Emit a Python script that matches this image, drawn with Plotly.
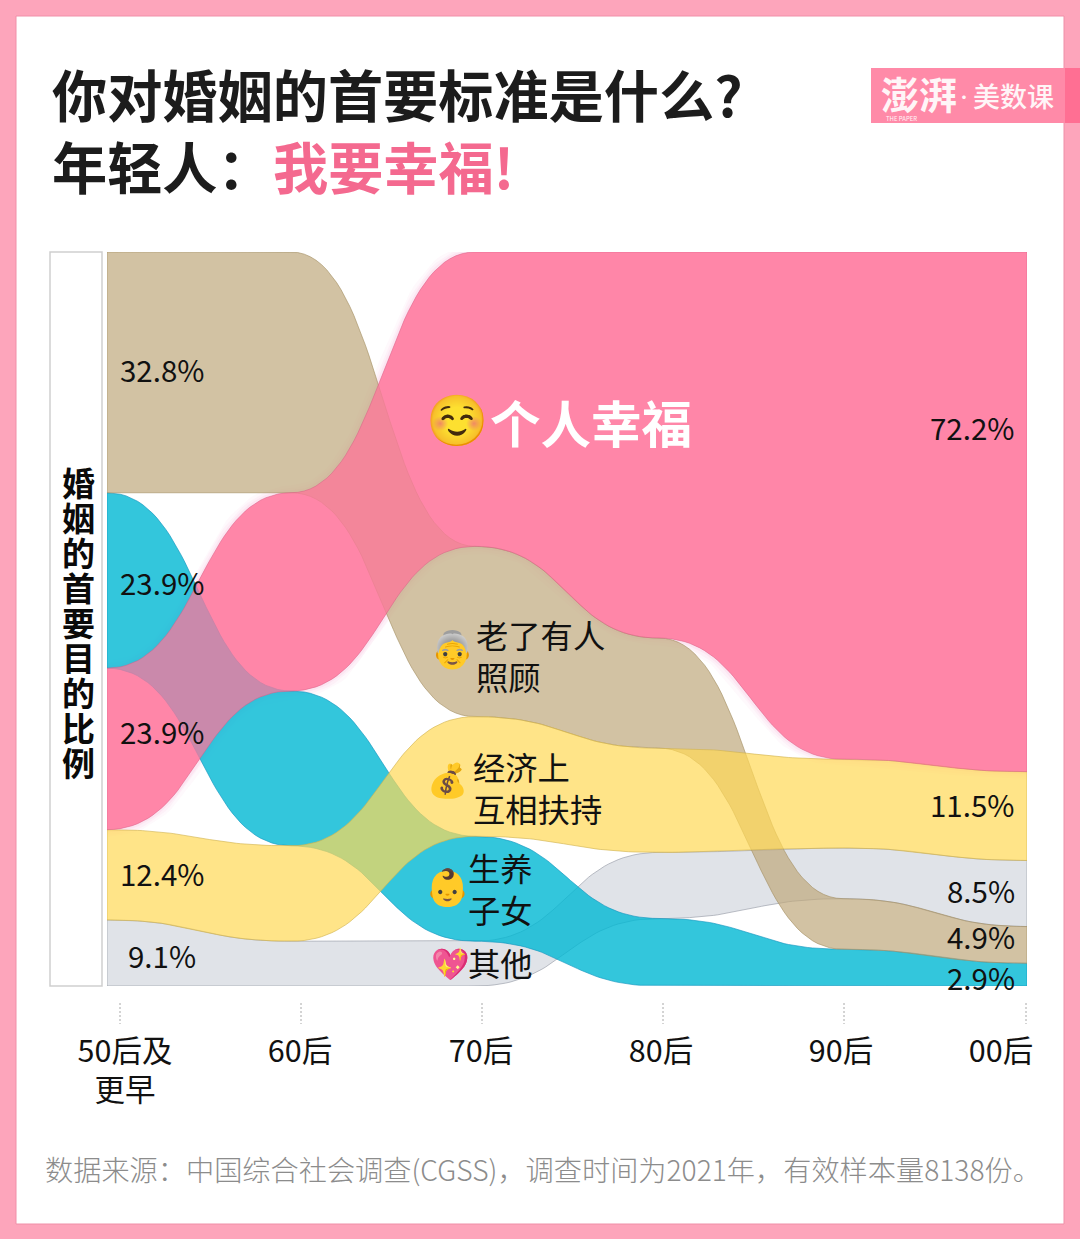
import numpy as np
import plotly.graph_objects as go

cohorts = ["50后及<br>更早", "60后", "70后", "80后", "90后", "00后"]
happiness = [22.0, 27.0, 40.1, 52.6, 69.1, 70.8]
care_old = [32.8, 32.8, 23.2, 15.0, 6.9, 5.0]
economy = [12.3, 13.0, 16.3, 14.2, 12.1, 12.1]
children = [23.9, 21.1, 14.3, 9.2, 5.0, 3.1]
other = [9.0, 6.1, 6.1, 9.0, 6.9, 9.0]

# stacking position of each series per cohort (0 = top)
rank_happiness = [2, 1, 0, 0, 0, 0]
rank_care_old = [0, 0, 1, 1, 3, 3]
rank_economy = [3, 3, 2, 2, 1, 1]
rank_children = [1, 2, 3, 4, 4, 4]
rank_other = [4, 4, 4, 3, 2, 2]

start_labels = ["32.8%", "23.9%", "23.9%", "12.4%", "9.1%"]
end_labels = ["72.2%", "11.5%", "8.5%", "4.9%", "2.9%"]

series = [  # bottom to top drawing order
    ("其他", other, rank_other, "rgba(211,215,222,0.7)", "rgba(150,155,165,0.8)"),
    ("生养子女", children, rank_children, "rgba(0,184,211,0.8)", "rgba(20,150,190,0.8)"),
    ("老了有人照顾", care_old, rank_care_old, "rgba(191,168,124,0.7)", "rgba(165,145,100,0.8)"),
    ("经济上互相扶持", economy, rank_economy, "rgba(255,216,85,0.7)", "rgba(210,180,80,0.8)"),
    ("个人幸福", happiness, rank_happiness, "rgba(255,121,158,0.74)", "rgba(215,95,135,0.6)"),
]

# ---------- geometry of the page ----------
W, H = 1080, 1239
L, R, T, B = 107, 1027, 252, 986


def px(x):
    return (x - L) / (R - L)


def py(y):
    return (B - y) / (B - T)


def x_data(x):
    return (x - L) / (R - L) * 5


tops = {}
for name, vals, rank, _, _ in series:
    edge_top, edge_bot = [], []
    for i in range(6):
        above = sum(s[1][i] for s in series if s[2][i] < rank[i])
        edge_top.append(100 - above)
        edge_bot.append(100 - above - vals[i])
    tops[name] = (edge_top, edge_bot)


def bump(edge):
    """Horizontal-tangent cubic Bezier link between consecutive cohorts."""
    t = np.linspace(0, 1, 41)
    xs, ys = [], []
    for i in range(5):
        bx = i + 1.5 * (1 - t) ** 2 * t + 1.5 * (1 - t) * t ** 2 + t ** 3
        by = edge[i] + (edge[i + 1] - edge[i]) * (3 * t ** 2 - 2 * t ** 3)
        xs.extend(bx.tolist())
        ys.extend(by.tolist())
    return xs, ys


def outline(name):
    xt, yt = bump(tops[name][0])
    xb, yb = bump(tops[name][1])
    return xt + xb[::-1] + [xt[0]], yt + yb[::-1] + [yt[0]]


fig = go.Figure()
# pale opaque base of the pink band + its soft glow, beneath every other band
X0, Y0 = outline("个人幸福")
for w, a in ((15, 0.04), (10, 0.05), (5, 0.07)):
    fig.add_trace(go.Scatter(x=X0, y=Y0, mode="lines", hoverinfo="skip", showlegend=False,
                             line=dict(color=f"rgba(235,90,175,{a})", width=w)))
fig.add_trace(go.Scatter(x=X0, y=Y0, mode="lines", fill="toself", fillcolor="rgb(255,171,196)",
                         hoverinfo="skip", showlegend=False, line=dict(width=0)))

for name, vals, rank, fill, line in series:
    X, Y = outline(name)
    fig.add_trace(go.Scatter(x=X, y=Y, mode="lines", fill="toself", fillcolor=fill, name=name,
                             line=dict(color=line, width=0.8), showlegend=False, hoverinfo="name"))

CJK = "Noto Sans CJK SC"
EMOJI = "Noto Color Emoji, Noto Sans CJK SC"
ann = []


def note(x, y, text, size, color="#111111", weight=400, anchor="left", font=CJK):
    ann.append(dict(x=px(x), y=py(y), xref="paper", yref="paper", text=text, showarrow=False,
                    xanchor=anchor, yanchor="middle", align="left",
                    font=dict(family=font, size=size, color=color, weight=weight)))


# title
note(50, 93, "你对婚姻的首要标准是什么?", 55.2, "#1c1c1c", 700)
note(50, 165, "年轻人\uff1a", 55.2, "#1c1c1c", 700)
note(271, 165, "我要幸福!", 55.2, "#f4698f", 700)

# logo
note(879, 93, "澎湃", 38, "#fff5f7", 700)
note(964, 96, "·", 14, "#fff5f7", 700, anchor="center")
note(971, 96, "美数课", 27, "#fff5f7", 500)
note(884, 119, "THE PAPER", 6, "#fff5f7", 400)

# vertical axis caption
for i, ch in enumerate("婚姻的首要目的比例"):
    note(78, 482 + i * 35.0, ch, 33, "#0a0a0a", 700, anchor="center")

# first / last column values
for (yy, xx), t in zip([(368.5, 118), (581.5, 118), (730.5, 118), (872.5, 118), (954.5, 126)], start_labels):
    note(xx, yy, t, 29.5)
for yy, t in zip([426.5, 803.5, 889.5, 935.5, 976.5], end_labels):
    note(1017, yy, t, 29.5, anchor="right")

# band labels
note(457, 421, "☺️", 50, font=EMOJI, anchor="center")
note(488, 420.5, "个人幸福", 50.5, "#ffffff", 700)
note(452, 650, "👵", 36, font=EMOJI, anchor="center")
note(474, 655, "老了有人<br>照顾", 32.3)
note(447, 781, "💰", 33, font=EMOJI, anchor="center")
note(471, 787, "经济上<br>互相扶持", 32.3)
note(447, 888, "👶", 36, font=EMOJI, anchor="center")
note(466, 888, "生养<br>子女", 32.3)
note(450, 964, "💖", 31, font=EMOJI, anchor="center")
note(466, 961.5, "其他", 32.3)

# source
note(43, 1168.5, "数据来源\uff1a中国综合社会调查(CGSS)\uff0c调查时间为2021年\uff0c有效样本量8138份。", 28.2, "#8c8c8c", 300)

shapes = [
    dict(type="rect", layer="below", xref="paper", yref="paper", x0=px(16), x1=px(1064), y0=py(1224), y1=py(16),
         fillcolor="#ffffff", line=dict(color="#f08fa8", width=1)),
    dict(type="rect", layer="below", xref="paper", yref="paper", x0=px(50), x1=px(102), y0=py(986), y1=py(252),
         fillcolor="#ffffff", line=dict(color="#cfcfcf", width=1.5)),
    dict(type="rect", layer="below", xref="paper", yref="paper", x0=px(871), x1=px(1065), y0=py(123), y1=py(68),
         fillcolor="#ff8aa8", line=dict(width=0)),
    dict(type="rect", layer="below", xref="paper", yref="paper", x0=px(1065), x1=px(1080), y0=py(123), y1=py(68),
         fillcolor="#ff6f93", line=dict(width=0)),
]
for tick in (120, 301, 482, 663, 844, 1026):
    shapes.append(dict(type="line", xref="x", yref="paper", x0=x_data(tick), x1=x_data(tick),
                       y0=py(1003), y1=py(1024), line=dict(color="#a8a8a8", width=1, dash="2px,2px")))

fig.update_layout(
    width=W, height=H, margin=dict(l=L, r=W - R, t=T, b=H - B),
    paper_bgcolor="#fda5bb", plot_bgcolor="rgba(0,0,0,0)",
    annotations=ann, shapes=shapes, showlegend=False,
    xaxis=dict(range=[0, 5], showgrid=False, zeroline=False, showline=False, ticks="",
               tickmode="array", tickvals=[x_data(v) for v in (125, 300, 481, 661, 841, 1001)],
               ticktext=cohorts, ticklabelstandoff=44,
               tickfont=dict(family=CJK, size=30.5, color="#111111")),
    yaxis=dict(range=[0, 100], visible=False),
)
fig.write_html("out.html", config={"displayModeBar": False},
               post_script="document.body.style.margin='0';")
